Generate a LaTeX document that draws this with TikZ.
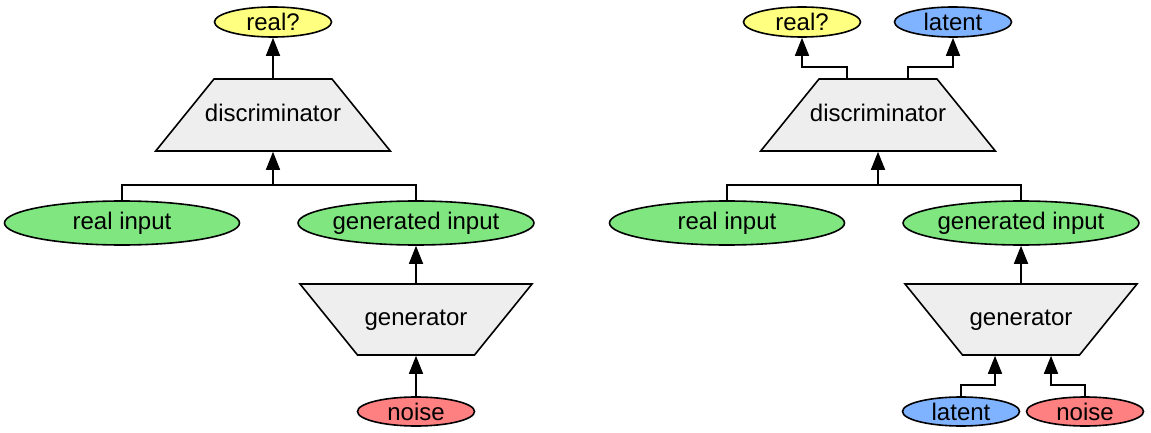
\documentclass[tikz,border=0pt]{standalone}
\usepackage{fontspec}
\setmainfont{Liberation Sans}
\usetikzlibrary{shapes.geometric, arrows.meta}
\definecolor{realyellow}{HTML}{FFFF80}
\definecolor{latentblue}{HTML}{80B3FF}
\definecolor{inputgreen}{HTML}{80E680}
\definecolor{noisered}{HTML}{FF8080}
\definecolor{netgray}{HTML}{EEEEEE}
\tikzset{
  blob/.style={ellipse, draw, inner sep=0pt, minimum width=58.5pt, minimum height=15pt},
  bigblob/.style={blob, minimum width=117.5pt, minimum height=22pt},
  % label sits in a zero-width box, so the trapezium follows the sizes below
  net/.style={trapezium, draw, fill=netgray, text height=9pt, text depth=3pt,
    execute at begin node={\hbox to 0pt\bgroup\hss},
    execute at end node={\hss\egroup}},
  discnet/.style={net, trapezium angle=51, inner xsep=29.5pt, inner ysep=12pt},
  gennet/.style={net, trapezium angle=129, inner xsep=29.25pt, inner ysep=11.75pt},
  edge/.style={-{Triangle[length=9pt, width=7pt]}}
}
\begin{document}
\begin{tikzpicture}[x=0.5pt, y=-0.5pt, line width=0.8pt, font=\fontsize{12}{14}\selectfont]
  \useasboundingbox (0,0) rectangle (1151,433);
  % plain GAN
  \node[blob, fill=realyellow] (lrealq) at (273,22) {real?};
  \node[discnet] (ldisc) at (273,115) {discriminator};
  \node[bigblob, fill=inputgreen] (lrealin) at (122,223) {real input};
  \node[bigblob, fill=inputgreen] (lgenin) at (416,223) {generated input};
  \node[gennet] (lgen) at (416,319.5) {generator};
  \node[blob, fill=noisered, minimum height=14.5pt] (lnoise) at (416,411.5) {noise};
  \coordinate (ljoin) at (273,185);
  \draw (lrealin.north) |- (ljoin);
  \draw (lgenin.north) |- (ljoin);
  \draw[edge] (ljoin) -- (ldisc.south);
  \draw[edge] (ldisc.north) -- (lrealq.south);
  \draw[edge] (lgen.north) -- (lgenin.south);
  \draw[edge] (lnoise.north) -- (lgen.south);
  % GAN with latent code
  \node[blob, fill=realyellow] (rrealq) at (802,22) {real?};
  \node[blob, fill=latentblue] (rlatout) at (953,22) {latent};
  \node[discnet] (rdisc) at (878,115) {discriminator};
  \node[bigblob, fill=inputgreen] (rrealin) at (727,223) {real input};
  \node[bigblob, fill=inputgreen] (rgenin) at (1021,223) {generated input};
  \node[gennet] (rgen) at (1021,319.5) {generator};
  \node[blob, fill=latentblue, minimum height=14.5pt] (rlatin) at (961,411.5) {latent};
  \node[blob, fill=noisered, minimum height=14.5pt] (rnoise) at (1085,411.5) {noise};
  \coordinate (rjoin) at (878,185);
  \draw (rrealin.north) |- (rjoin);
  \draw (rgenin.north) |- (rjoin);
  \draw[edge] (rjoin) -- (rdisc.south);
  \draw[edge] ([xshift=-15.5pt]rdisc.north) -- ++(0,-11) -| (rrealq.south);
  \draw[edge] ([xshift=15pt]rdisc.north) -- ++(0,-11) -| (rlatout.south);
  \draw[edge] (rgen.north) -- (rgenin.south);
  \draw[edge] (rlatin.north) -- ++(0,-11) -| ([xshift=-13pt]rgen.south);
  \draw[edge] (rnoise.north) -- ++(0,-11) -| ([xshift=15pt]rgen.south);
\end{tikzpicture}
\end{document}
